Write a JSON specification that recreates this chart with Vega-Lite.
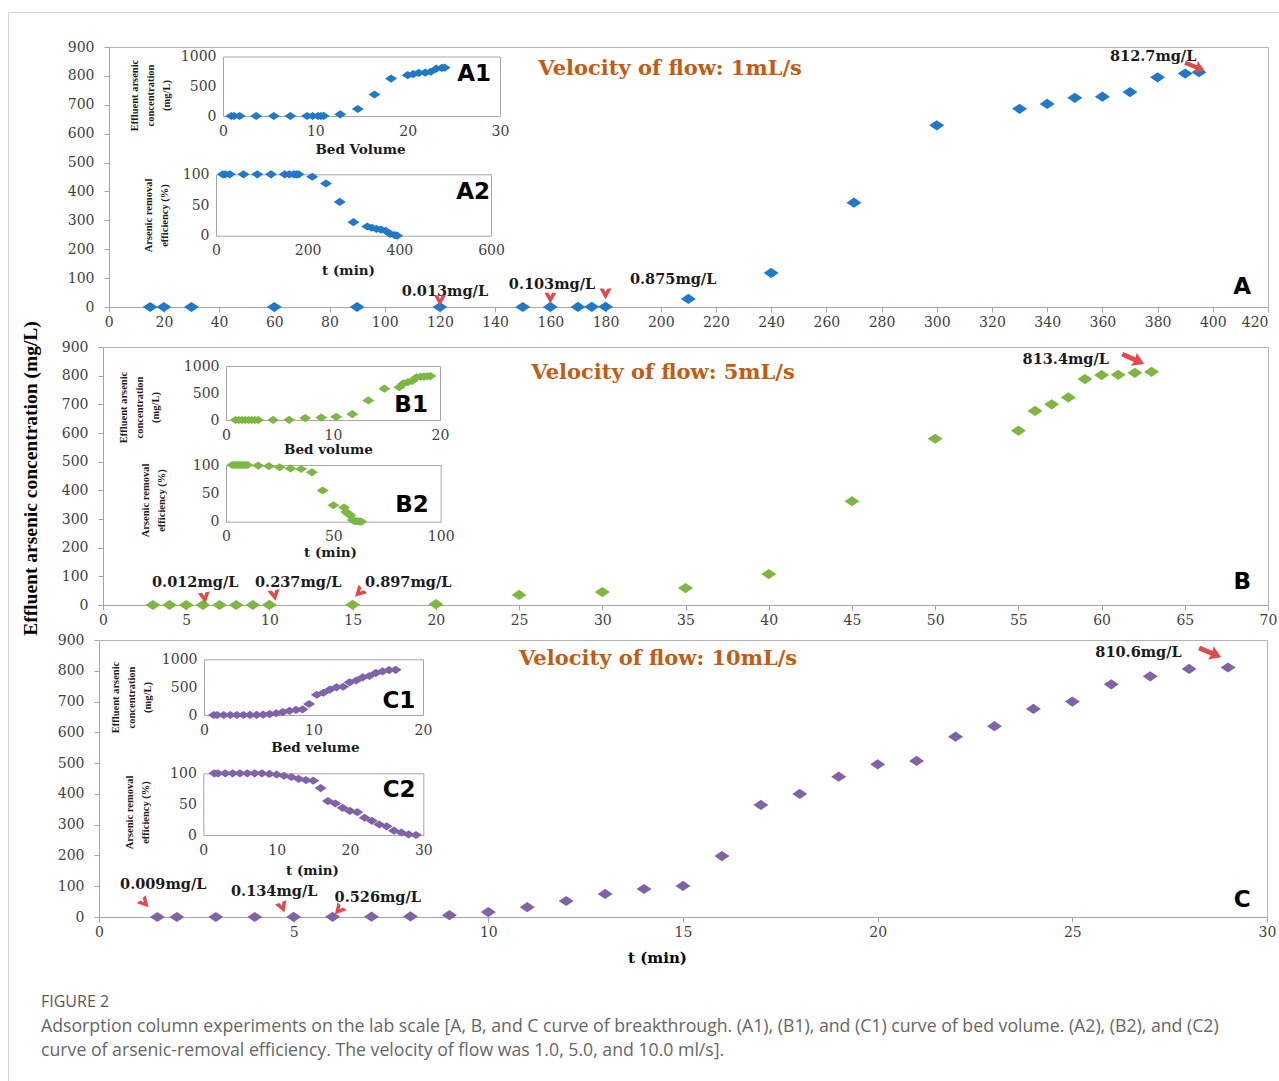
{
  "$schema": "https://vega.github.io/schema/vega-lite/v6.json",
  "width": 1271,
  "height": 1069,
  "autosize": {"type": "none"},
  "padding": {"left": 8, "top": 12, "right": 0, "bottom": 0},
  "background": "white",
  "config": {"view": {"stroke": "#d6d6d6"}, "axis": {"grid": false}},
  "title": {
    "text": "FIGURE 2",
    "subtitle": ["Adsorption column experiments on the lab scale [A, B, and C curve of breakthrough. (A1), (B1), and (C1) curve of bed volume. (A2), (B2), and (C2)", "curve of arsenic-removal efficiency. The velocity of flow was 1.0, 5.0, and 10.0 ml/s]."],
    "orient": "bottom", "anchor": "start", "frame": "group", "offset": -87, "dx": 33,
    "font": "Open Sans", "fontSize": 16, "fontWeight": "normal", "color": "#595959",
    "subtitleFont": "Open Sans", "subtitleFontSize": 17.7, "subtitleColor": "#666666", "subtitleLineHeight": 24, "subtitlePadding": 8
  },
  "datasets": {
    "A": [
      {"t":15,"c":0,"bv":0.9,"eff":100},{"t":20,"c":0,"bv":1.2,"eff":100},{"t":30,"c":0,"bv":1.8,"eff":100},
      {"t":60,"c":0,"bv":3.6,"eff":100},{"t":90,"c":0,"bv":5.5,"eff":100},{"t":120,"c":0.013,"bv":7.3,"eff":100},
      {"t":150,"c":0.05,"bv":9.1,"eff":100},{"t":160,"c":0.103,"bv":9.7,"eff":100},{"t":170,"c":0.3,"bv":10.3,"eff":100},
      {"t":175,"c":0.5,"bv":10.6,"eff":100},{"t":180,"c":0.875,"bv":10.9,"eff":100},{"t":210,"c":28,"bv":12.7,"eff":96},
      {"t":240,"c":118,"bv":14.6,"eff":85},{"t":270,"c":361,"bv":16.4,"eff":55},{"t":300,"c":629,"bv":18.2,"eff":22},
      {"t":330,"c":686,"bv":20.0,"eff":15},{"t":340,"c":703,"bv":20.6,"eff":13},{"t":350,"c":724,"bv":21.2,"eff":11},
      {"t":360,"c":728,"bv":21.9,"eff":10},{"t":370,"c":744,"bv":22.5,"eff":8},{"t":380,"c":795,"bv":23.1,"eff":3},
      {"t":390,"c":808,"bv":23.7,"eff":1},{"t":395,"c":812.7,"bv":24.0,"eff":0}
    ],
    "B": [
      {"t":3,"c":0,"bv":0.9,"eff":100},{"t":4,"c":0,"bv":1.2,"eff":100},{"t":5,"c":0,"bv":1.5,"eff":100},
      {"t":6,"c":0.012,"bv":1.8,"eff":100},{"t":7,"c":0,"bv":2.1,"eff":100},{"t":8,"c":0,"bv":2.4,"eff":100},
      {"t":9,"c":0,"bv":2.7,"eff":100},{"t":10,"c":0.237,"bv":3.0,"eff":100},{"t":15,"c":0.897,"bv":4.4,"eff":99},
      {"t":20,"c":3,"bv":5.9,"eff":98},{"t":25,"c":35,"bv":7.4,"eff":96},{"t":30,"c":45,"bv":8.9,"eff":94},
      {"t":35,"c":59,"bv":10.3,"eff":93},{"t":40,"c":108,"bv":11.8,"eff":87},{"t":45,"c":362,"bv":13.3,"eff":55},
      {"t":50,"c":580,"bv":14.8,"eff":29},{"t":55,"c":608,"bv":16.2,"eff":25},{"t":56,"c":677,"bv":16.6,"eff":17},
      {"t":57,"c":700,"bv":17.0,"eff":14},{"t":58,"c":724,"bv":17.4,"eff":11},{"t":59,"c":788,"bv":17.8,"eff":3},
      {"t":60,"c":802,"bv":18.2,"eff":1},{"t":61,"c":803,"bv":18.5,"eff":1},{"t":62,"c":810,"bv":18.8,"eff":0.5},
      {"t":63,"c":813.4,"bv":19.1,"eff":0}
    ],
    "C": [
      {"t":1.5,"c":0.009,"bv":0.9,"eff":100},{"t":2,"c":0,"bv":1.2,"eff":100},{"t":3,"c":0,"bv":1.8,"eff":100},
      {"t":4,"c":0,"bv":2.4,"eff":100},{"t":5,"c":0.134,"bv":3.0,"eff":100},{"t":6,"c":0.526,"bv":3.6,"eff":100},
      {"t":7,"c":1,"bv":4.2,"eff":100},{"t":8,"c":2,"bv":4.8,"eff":100},{"t":9,"c":6,"bv":5.4,"eff":99},
      {"t":10,"c":16,"bv":6.0,"eff":98},{"t":11,"c":32,"bv":6.6,"eff":96},{"t":12,"c":52,"bv":7.2,"eff":94},
      {"t":13,"c":75,"bv":7.8,"eff":91},{"t":14,"c":91,"bv":8.4,"eff":89},{"t":15,"c":101,"bv":9.0,"eff":88},
      {"t":16,"c":198,"bv":9.6,"eff":76},{"t":17,"c":364,"bv":10.3,"eff":55},{"t":18,"c":400,"bv":10.9,"eff":51},
      {"t":19,"c":456,"bv":11.5,"eff":44},{"t":20,"c":496,"bv":12.1,"eff":39},{"t":21,"c":507,"bv":12.7,"eff":37},
      {"t":22,"c":586,"bv":13.3,"eff":28},{"t":23,"c":620,"bv":13.9,"eff":23},{"t":24,"c":676,"bv":14.5,"eff":17},
      {"t":25,"c":700,"bv":15.1,"eff":14},{"t":26,"c":756,"bv":15.7,"eff":7},{"t":27,"c":782,"bv":16.3,"eff":4},
      {"t":28,"c":806,"bv":16.9,"eff":1},{"t":29,"c":810.6,"bv":17.5,"eff":0}
    ],
    "notesA": [
      {"kind":"value","t":121.8,"c":52,"label":"0.013mg/L"},
      {"kind":"value","t":160.6,"c":76,"label":"0.103mg/L"},
      {"kind":"value","t":204.5,"c":93,"label":"0.875mg/L"},
      {"kind":"value","t":378.4,"c":865,"label":"812.7mg/L"},
      {"kind":"velocity","t":203.4,"c":824,"label":"Velocity of flow: 1mL/s"},
      {"kind":"panel","t":410.6,"c":69,"label":"A"},
      {"kind":"down","t":120,"c":24,"label":""},
      {"kind":"down","t":160,"c":33,"label":""},
      {"kind":"down","t":180,"c":47,"label":""},
      {"kind":"long","t":393.5,"c":832,"label":""}
    ],
    "notesB": [
      {"kind":"value","t":5.54,"c":78,"label":"0.012mg/L"},
      {"kind":"value","t":11.73,"c":78,"label":"0.237mg/L"},
      {"kind":"value","t":18.34,"c":76,"label":"0.897mg/L"},
      {"kind":"value","t":57.85,"c":855,"label":"813.4mg/L"},
      {"kind":"velocity","t":33.65,"c":809,"label":"Velocity of flow: 5mL/s"},
      {"kind":"panel","t":68.45,"c":80,"label":"B"},
      {"kind":"down","t":6.1,"c":27,"label":""},
      {"kind":"down","t":10.3,"c":35,"label":""},
      {"kind":"dl","t":15.4,"c":44,"label":""},
      {"kind":"long","t":61.9,"c":858,"label":""}
    ],
    "notesC": [
      {"kind":"value","t":1.65,"c":104,"label":"0.009mg/L"},
      {"kind":"value","t":4.5,"c":82,"label":"0.134mg/L"},
      {"kind":"value","t":7.16,"c":63,"label":"0.526mg/L"},
      {"kind":"value","t":26.7,"c":857,"label":"810.6mg/L"},
      {"kind":"velocity","t":14.36,"c":838,"label":"Velocity of flow: 10mL/s"},
      {"kind":"panel","t":29.36,"c":55,"label":"C"},
      {"kind":"dr","t":1.17,"c":46,"label":""},
      {"kind":"down","t":4.71,"c":33,"label":""},
      {"kind":"dl","t":6.16,"c":23,"label":""},
      {"kind":"long","t":28.54,"c":859,"label":""}
    ]
  },
  "resolve": {"scale": {"x": "independent", "y": "independent"}, "axis": {"x": "independent", "y": "independent"}},
  "layer": [
    {
      "data": {"name": "A"},
      "resolve": {"axis": {"x": "independent", "y": "independent"}},
      "encoding": {
        "x": {"field": "t", "type": "quantitative", "scale": {"domain": [0, 420], "range": [100.7, 1260], "nice": false, "zero": false}, "axis": null},
        "y": {"field": "c", "type": "quantitative", "scale": {"domain": [0, 900], "range": [295, 35], "nice": false, "zero": false}, "axis": null}
      },
      "layer": [
        {"mark": {"type": "point", "shape": "M-1,0L0,-0.68L1,0L0,0.68Z", "filled": true, "size": 225, "color": "#1f78c8", "opacity": 1},
          "encoding": {
            "x": {"field": "t", "type": "quantitative", "scale": {"domain": [0, 420], "range": [100.7, 1260], "nice": false, "zero": false},
              "axis": {"orient": "bottom", "offset": -774, "values": [0,20,40,60,80,100,120,140,160,180,200,220,240,260,280,300,320,340,360,380,400,420], "format": "d", "title": null, "domainColor": "#a6a6a6", "tickColor": "#a6a6a6", "tickSize": 5, "labelPadding": 3, "labelFont": "DejaVu Serif", "labelFontSize": 14, "labelColor": "#404040", "labelOverlap": false, "labelFlush": false,
                "labelAlign": {"condition": {"test": "datum.value == 420", "value": "right"}, "value": "center"}}},
            "y": {"field": "c", "type": "quantitative", "scale": {"domain": [0, 900], "range": [295, 35], "nice": false, "zero": false},
              "axis": {"orient": "left", "offset": -101, "values": [0,100,200,300,400,500,600,700,800,900], "format": "d", "title": null, "domainColor": "#a6a6a6", "tickColor": "#a6a6a6", "tickSize": 5, "labelPadding": 10, "labelFont": "DejaVu Serif", "labelFontSize": 14, "labelColor": "#404040", "labelOverlap": false, "labelFlush": false}}
          }},
        {"data": {"name": "notesA"}, "transform": [{"filter": "datum.kind == 'value'"}], "mark": {"type": "text", "font": "DejaVu Serif", "fontWeight": "bold", "fontSize": 14.5, "color": "#1a1a1a", "align": "center", "baseline": "middle"},
          "encoding": {
            "x": {"field": "t", "type": "quantitative", "scale": {"domain": [0, 420], "range": [100.7, 1260], "nice": false, "zero": false}, "axis": {"orient": "top", "offset": -35, "labels": false, "ticks": false, "domainColor": "#b3b3b3", "title": null}},
            "y": {"field": "c", "type": "quantitative", "scale": {"domain": [0, 900], "range": [295, 35], "nice": false, "zero": false}, "axis": {"orient": "right", "offset": -11, "labels": false, "ticks": false, "domainColor": "#b3b3b3", "title": null}},
            "text": {"field": "label"}}},
        {"data": {"name": "notesA"}, "transform": [{"filter": "datum.kind == 'velocity'"}], "mark": {"type": "text", "font": "DejaVu Serif", "fontWeight": "bold", "fontSize": 21, "color": "#c55a11", "align": "center", "baseline": "middle"}, "encoding": {"text": {"field": "label"}}},
        {"data": {"name": "notesA"}, "transform": [{"filter": "datum.kind == 'panel'"}], "mark": {"type": "text", "font": "DejaVu Sans", "fontWeight": "bold", "fontSize": 23, "color": "#000000", "align": "center", "baseline": "middle"}, "encoding": {"text": {"field": "label"}}},
        {"data": {"name": "notesA"}, "transform": [{"filter": "datum.kind == 'down'"}], "mark": {"type": "point", "shape": "M-1,-0.8L-0.3,-0.8L0,-0.15L0.3,-0.8L1,-0.8L0,1Z", "filled": true, "size": 144, "color": "#e5474b", "opacity": 1, "angle": 0}},
        {"data": {"name": "notesA"}, "transform": [{"filter": "datum.kind == 'long'"}], "mark": {"type": "point", "shape": "M-0.2,-1L0.2,-1L0.2,0.15L0.6,0.05L0,1L-0.6,0.05L-0.2,0.15Z", "filled": true, "size": 441, "color": "#e5474b", "opacity": 1, "angle": -68}}
      ]
    },
    {
      "data": {"name": "A"},
      "resolve": {"axis": {"x": "independent", "y": "independent"}},
      "encoding": {
        "x": {"field": "bv", "type": "quantitative", "scale": {"domain": [0, 30], "range": [215, 492], "nice": false, "zero": false}, "axis": null},
        "y": {"field": "c", "type": "quantitative", "scale": {"domain": [0, 1000], "range": [104, 44.5], "nice": false, "zero": false}, "axis": null}
      },
      "layer": [
        {"mark": {"type": "point", "shape": "M-1,0L0,-0.68L1,0L0,0.68Z", "filled": true, "size": 144, "color": "#1f78c8", "opacity": 1},
          "encoding": {
            "x": {"field": "bv", "type": "quantitative", "scale": {"domain": [0, 30], "range": [215, 492], "nice": false, "zero": false},
              "axis": {"orient": "bottom", "offset": -965, "values": [0,10,20,30], "format": "d", "ticks": false, "domainColor": "#a6a6a6", "labelPadding": 8, "labelFont": "DejaVu Serif", "labelFontSize": 14, "labelColor": "#404040", "labelFlush": false, "labelOverlap": false,
                "title": "Bed Volume", "titleX": 352, "titleY": 33, "titleBaseline": "middle", "titleAlign": "center", "titleFont": "DejaVu Serif", "titleFontSize": 13.5, "titleFontWeight": "bold", "titleColor": "#1a1a1a"}},
            "y": {"field": "c", "type": "quantitative", "scale": {"domain": [0, 1000], "range": [104, 44.5], "nice": false, "zero": false},
              "axis": {"orient": "left", "offset": -215, "values": [0,500,1000], "format": "d", "ticks": false, "domainColor": "#a6a6a6", "labelPadding": 7, "labelFont": "DejaVu Serif", "labelFontSize": 14, "labelColor": "#404040", "labelFlush": false, "labelOverlap": false,
                "title": ["Effluent arsenic", "concentration", "(mg/L)"], "titleX": -89, "titleY": 83, "titleAngle": 270, "titleBaseline": "middle", "titleAlign": "center", "titleFont": "Liberation Serif", "titleFontSize": 10.5, "titleFontWeight": "bold", "titleColor": "#1a1a1a", "titleLineHeight": 16}}
          }},
        {"data": {"values": [{"bv": 27.2, "c": 706, "label": "A1"}]}, "mark": {"type": "text", "font": "DejaVu Sans", "fontWeight": "bold", "fontSize": 23, "color": "#000000", "align": "center", "baseline": "middle"},
          "encoding": {
            "x": {"field": "bv", "type": "quantitative", "scale": {"domain": [0, 30], "range": [215, 492], "nice": false, "zero": false}, "axis": {"orient": "top", "offset": -44.5, "labels": false, "ticks": false, "domainColor": "#a6a6a6", "title": null}},
            "y": {"field": "c", "type": "quantitative", "scale": {"domain": [0, 1000], "range": [104, 44.5], "nice": false, "zero": false}, "axis": {"orient": "right", "offset": -779, "labels": false, "ticks": false, "domainColor": "#a6a6a6", "title": null}},
            "text": {"field": "label"}}}
      ]
    },
    {
      "data": {"name": "A"},
      "resolve": {"axis": {"x": "independent", "y": "independent"}},
      "encoding": {
        "x": {"field": "t", "type": "quantitative", "scale": {"domain": [0, 600], "range": [208, 483], "nice": false, "zero": false}, "axis": null},
        "y": {"field": "eff", "type": "quantitative", "scale": {"domain": [0, 100], "range": [223.7, 162.3], "nice": false, "zero": false}, "axis": null}
      },
      "layer": [
        {"mark": {"type": "point", "shape": "M-1,0L0,-0.68L1,0L0,0.68Z", "filled": true, "size": 144, "color": "#1f78c8", "opacity": 1},
          "encoding": {
            "x": {"field": "t", "type": "quantitative", "scale": {"domain": [0, 600], "range": [208, 483], "nice": false, "zero": false},
              "axis": {"orient": "bottom", "offset": -845.3, "values": [0,200,400,600], "format": "d", "ticks": false, "domainColor": "#a6a6a6", "labelPadding": 8, "labelFont": "DejaVu Serif", "labelFontSize": 14, "labelColor": "#404040", "labelFlush": false, "labelOverlap": false,
                "title": "t (min)", "titleX": 340, "titleY": 35, "titleBaseline": "middle", "titleAlign": "center", "titleFont": "DejaVu Serif", "titleFontSize": 13.5, "titleFontWeight": "bold", "titleColor": "#1a1a1a"}},
            "y": {"field": "eff", "type": "quantitative", "scale": {"domain": [0, 100], "range": [223.7, 162.3], "nice": false, "zero": false},
              "axis": {"orient": "left", "offset": -208, "values": [0,50,100], "format": "d", "ticks": false, "domainColor": "#a6a6a6", "labelPadding": 7, "labelFont": "DejaVu Serif", "labelFontSize": 14, "labelColor": "#404040", "labelFlush": false, "labelOverlap": false,
                "title": ["Arsenic removal", "efficiency (%)"], "titleX": -68, "titleY": 203, "titleAngle": 270, "titleBaseline": "middle", "titleAlign": "center", "titleFont": "Liberation Serif", "titleFontSize": 10.5, "titleFontWeight": "bold", "titleColor": "#1a1a1a", "titleLineHeight": 16}}
          }},
        {"data": {"values": [{"t": 561, "eff": 71, "label": "A2"}]}, "mark": {"type": "text", "font": "DejaVu Sans", "fontWeight": "bold", "fontSize": 23, "color": "#000000", "align": "center", "baseline": "middle"},
          "encoding": {
            "x": {"field": "t", "type": "quantitative", "scale": {"domain": [0, 600], "range": [208, 483], "nice": false, "zero": false}, "axis": {"orient": "top", "offset": -162.3, "labels": false, "ticks": false, "domainColor": "#a6a6a6", "title": null}},
            "y": {"field": "eff", "type": "quantitative", "scale": {"domain": [0, 100], "range": [223.7, 162.3], "nice": false, "zero": false}, "axis": {"orient": "right", "offset": -788, "labels": false, "ticks": false, "domainColor": "#a6a6a6", "title": null}},
            "text": {"field": "label"}}}
      ]
    },
    {
      "data": {"name": "B"},
      "resolve": {"axis": {"x": "independent", "y": "independent"}},
      "encoding": {
        "x": {"field": "t", "type": "quantitative", "scale": {"domain": [0, 70], "range": [95, 1260], "nice": false, "zero": false}, "axis": null},
        "y": {"field": "c", "type": "quantitative", "scale": {"domain": [0, 900], "range": [593, 335], "nice": false, "zero": false}, "axis": null}
      },
      "layer": [
        {"mark": {"type": "point", "shape": "M-1,0L0,-0.68L1,0L0,0.68Z", "filled": true, "size": 225, "color": "#7cb83f", "opacity": 1},
          "encoding": {
            "x": {"field": "t", "type": "quantitative", "scale": {"domain": [0, 70], "range": [95, 1260], "nice": false, "zero": false},
              "axis": {"orient": "bottom", "offset": -476, "values": [0,5,10,15,20,25,30,35,40,45,50,55,60,65,70], "format": "d", "title": null, "domainColor": "#a6a6a6", "tickColor": "#a6a6a6", "tickSize": 5, "labelPadding": 3, "labelFont": "DejaVu Serif", "labelFontSize": 14, "labelColor": "#404040", "labelOverlap": false, "labelFlush": false}},
            "y": {"field": "c", "type": "quantitative", "scale": {"domain": [0, 900], "range": [593, 335], "nice": false, "zero": false},
              "axis": {"orient": "left", "offset": -95, "values": [0,100,200,300,400,500,600,700,800,900], "format": "d", "domainColor": "#a6a6a6", "tickColor": "#a6a6a6", "tickSize": 5, "labelPadding": 10, "labelFont": "DejaVu Serif", "labelFontSize": 14, "labelColor": "#404040", "labelOverlap": false, "labelFlush": false,
                "title": "Effluent arsenic concentration (mg/L)", "titleX": -73, "titleY": 466, "titleAngle": 270, "titleBaseline": "middle", "titleAlign": "center", "titleFont": "Liberation Serif", "titleFontSize": 19.5, "titleFontWeight": "bold", "titleColor": "#000000"}}
          }},
        {"data": {"name": "notesB"}, "transform": [{"filter": "datum.kind == 'value'"}], "mark": {"type": "text", "font": "DejaVu Serif", "fontWeight": "bold", "fontSize": 14.5, "color": "#1a1a1a", "align": "center", "baseline": "middle"},
          "encoding": {
            "x": {"field": "t", "type": "quantitative", "scale": {"domain": [0, 70], "range": [95, 1260], "nice": false, "zero": false}, "axis": {"orient": "top", "offset": -335, "labels": false, "ticks": false, "domainColor": "#b3b3b3", "title": null}},
            "y": {"field": "c", "type": "quantitative", "scale": {"domain": [0, 900], "range": [593, 335], "nice": false, "zero": false}, "axis": {"orient": "right", "offset": -11, "labels": false, "ticks": false, "domainColor": "#b3b3b3", "title": null}},
            "text": {"field": "label"}}},
        {"data": {"name": "notesB"}, "transform": [{"filter": "datum.kind == 'velocity'"}], "mark": {"type": "text", "font": "DejaVu Serif", "fontWeight": "bold", "fontSize": 21, "color": "#c55a11", "align": "center", "baseline": "middle"}, "encoding": {"text": {"field": "label"}}},
        {"data": {"name": "notesB"}, "transform": [{"filter": "datum.kind == 'panel'"}], "mark": {"type": "text", "font": "DejaVu Sans", "fontWeight": "bold", "fontSize": 23, "color": "#000000", "align": "center", "baseline": "middle"}, "encoding": {"text": {"field": "label"}}},
        {"data": {"name": "notesB"}, "transform": [{"filter": "datum.kind == 'down'"}], "mark": {"type": "point", "shape": "M-1,-0.8L-0.3,-0.8L0,-0.15L0.3,-0.8L1,-0.8L0,1Z", "filled": true, "size": 144, "color": "#e5474b", "opacity": 1, "angle": -10}},
        {"data": {"name": "notesB"}, "transform": [{"filter": "datum.kind == 'dl'"}], "mark": {"type": "point", "shape": "M-1,-0.8L-0.3,-0.8L0,-0.15L0.3,-0.8L1,-0.8L0,1Z", "filled": true, "size": 144, "color": "#e5474b", "opacity": 1, "angle": 45}},
        {"data": {"name": "notesB"}, "transform": [{"filter": "datum.kind == 'long'"}], "mark": {"type": "point", "shape": "M-0.2,-1L0.2,-1L0.2,0.15L0.6,0.05L0,1L-0.6,0.05L-0.2,0.15Z", "filled": true, "size": 576, "color": "#e5474b", "opacity": 1, "angle": -66}}
      ]
    },
    {
      "data": {"name": "B"},
      "resolve": {"axis": {"x": "independent", "y": "independent"}},
      "encoding": {
        "x": {"field": "bv", "type": "quantitative", "scale": {"domain": [0, 20], "range": [218, 432], "nice": false, "zero": false}, "axis": null},
        "y": {"field": "c", "type": "quantitative", "scale": {"domain": [0, 1000], "range": [408, 354], "nice": false, "zero": false}, "axis": null}
      },
      "layer": [
        {"mark": {"type": "point", "shape": "M-1,0L0,-0.68L1,0L0,0.68Z", "filled": true, "size": 144, "color": "#7cb83f", "opacity": 1},
          "encoding": {
            "x": {"field": "bv", "type": "quantitative", "scale": {"domain": [0, 20], "range": [218, 432], "nice": false, "zero": false},
              "axis": {"orient": "bottom", "offset": -661, "values": [0,10,20], "format": "d", "ticks": false, "domainColor": "#a6a6a6", "labelPadding": 8, "labelFont": "DejaVu Serif", "labelFontSize": 14, "labelColor": "#404040", "labelFlush": false, "labelOverlap": false,
                "title": "Bed volume", "titleX": 320, "titleY": 29, "titleBaseline": "middle", "titleAlign": "center", "titleFont": "DejaVu Serif", "titleFontSize": 13.5, "titleFontWeight": "bold", "titleColor": "#1a1a1a"}},
            "y": {"field": "c", "type": "quantitative", "scale": {"domain": [0, 1000], "range": [408, 354], "nice": false, "zero": false},
              "axis": {"orient": "left", "offset": -218, "values": [0,500,1000], "format": "d", "ticks": false, "domainColor": "#a6a6a6", "labelPadding": 7, "labelFont": "DejaVu Serif", "labelFontSize": 14, "labelColor": "#404040", "labelFlush": false, "labelOverlap": false,
                "title": ["Effluent arsenic", "concentration", "(mg/L)"], "titleX": -103, "titleY": 395, "titleAngle": 270, "titleBaseline": "middle", "titleAlign": "center", "titleFont": "Liberation Serif", "titleFontSize": 10.5, "titleFontWeight": "bold", "titleColor": "#1a1a1a", "titleLineHeight": 16}}
          }},
        {"data": {"values": [{"bv": 17.3, "c": 278, "label": "B1"}]}, "mark": {"type": "text", "font": "DejaVu Sans", "fontWeight": "bold", "fontSize": 23, "color": "#000000", "align": "center", "baseline": "middle"},
          "encoding": {
            "x": {"field": "bv", "type": "quantitative", "scale": {"domain": [0, 20], "range": [218, 432], "nice": false, "zero": false}, "axis": {"orient": "top", "offset": -354, "labels": false, "ticks": false, "domainColor": "#a6a6a6", "title": null}},
            "y": {"field": "c", "type": "quantitative", "scale": {"domain": [0, 1000], "range": [408, 354], "nice": false, "zero": false}, "axis": {"orient": "right", "offset": -839, "labels": false, "ticks": false, "domainColor": "#a6a6a6", "title": null}},
            "text": {"field": "label"}}}
      ]
    },
    {
      "data": {"name": "B"},
      "resolve": {"axis": {"x": "independent", "y": "independent"}},
      "encoding": {
        "x": {"field": "t", "type": "quantitative", "scale": {"domain": [0, 100], "range": [218, 432.7], "nice": false, "zero": false}, "axis": null},
        "y": {"field": "eff", "type": "quantitative", "scale": {"domain": [0, 100], "range": [509.7, 453], "nice": false, "zero": false}, "axis": null}
      },
      "layer": [
        {"mark": {"type": "point", "shape": "M-1,0L0,-0.68L1,0L0,0.68Z", "filled": true, "size": 144, "color": "#7cb83f", "opacity": 1},
          "encoding": {
            "x": {"field": "t", "type": "quantitative", "scale": {"domain": [0, 100], "range": [218, 432.7], "nice": false, "zero": false},
              "axis": {"orient": "bottom", "offset": -559.3, "values": [0,50,100], "format": "d", "ticks": false, "domainColor": "#a6a6a6", "labelPadding": 8, "labelFont": "DejaVu Serif", "labelFontSize": 14, "labelColor": "#404040", "labelFlush": false, "labelOverlap": false,
                "title": "t (min)", "titleX": 322, "titleY": 31, "titleBaseline": "middle", "titleAlign": "center", "titleFont": "DejaVu Serif", "titleFontSize": 13.5, "titleFontWeight": "bold", "titleColor": "#1a1a1a"}},
            "y": {"field": "eff", "type": "quantitative", "scale": {"domain": [0, 100], "range": [509.7, 453], "nice": false, "zero": false},
              "axis": {"orient": "left", "offset": -218, "values": [0,50,100], "format": "d", "ticks": false, "domainColor": "#a6a6a6", "labelPadding": 7, "labelFont": "DejaVu Serif", "labelFontSize": 14, "labelColor": "#404040", "labelFlush": false, "labelOverlap": false,
                "title": ["Arsenic removal", "efficiency (%)"], "titleX": -81, "titleY": 488, "titleAngle": 270, "titleBaseline": "middle", "titleAlign": "center", "titleFont": "Liberation Serif", "titleFontSize": 10.5, "titleFontWeight": "bold", "titleColor": "#1a1a1a", "titleLineHeight": 16}}
          }},
        {"data": {"values": [{"t": 86.6, "eff": 29.5, "label": "B2"}]}, "mark": {"type": "text", "font": "DejaVu Sans", "fontWeight": "bold", "fontSize": 23, "color": "#000000", "align": "center", "baseline": "middle"},
          "encoding": {
            "x": {"field": "t", "type": "quantitative", "scale": {"domain": [0, 100], "range": [218, 432.7], "nice": false, "zero": false}, "axis": {"orient": "top", "offset": -453, "labels": false, "ticks": false, "domainColor": "#a6a6a6", "title": null}},
            "y": {"field": "eff", "type": "quantitative", "scale": {"domain": [0, 100], "range": [509.7, 453], "nice": false, "zero": false}, "axis": {"orient": "right", "offset": -838.3, "labels": false, "ticks": false, "domainColor": "#a6a6a6", "title": null}},
            "text": {"field": "label"}}}
      ]
    },
    {
      "data": {"name": "C"},
      "resolve": {"axis": {"x": "independent", "y": "independent"}},
      "encoding": {
        "x": {"field": "t", "type": "quantitative", "scale": {"domain": [0, 30], "range": [91, 1259], "nice": false, "zero": false}, "axis": null},
        "y": {"field": "c", "type": "quantitative", "scale": {"domain": [0, 900], "range": [905, 628], "nice": false, "zero": false}, "axis": null}
      },
      "layer": [
        {"mark": {"type": "point", "shape": "M-1,0L0,-0.68L1,0L0,0.68Z", "filled": true, "size": 225, "color": "#8062a8", "opacity": 1},
          "encoding": {
            "x": {"field": "t", "type": "quantitative", "scale": {"domain": [0, 30], "range": [91, 1259], "nice": false, "zero": false},
              "axis": {"orient": "bottom", "offset": -164, "values": [0,5,10,15,20,25,30], "format": "d", "domainColor": "#a6a6a6", "tickColor": "#a6a6a6", "tickSize": 5, "labelPadding": 3, "labelFont": "DejaVu Serif", "labelFontSize": 14, "labelColor": "#404040", "labelOverlap": false, "labelFlush": false,
                "title": "t (min)", "titleX": 649, "titleY": 40, "titleBaseline": "middle", "titleAlign": "center", "titleFont": "DejaVu Serif", "titleFontSize": 15, "titleFontWeight": "bold", "titleColor": "#000000"}},
            "y": {"field": "c", "type": "quantitative", "scale": {"domain": [0, 900], "range": [905, 628], "nice": false, "zero": false},
              "axis": {"orient": "left", "offset": -91, "values": [0,100,200,300,400,500,600,700,800,900], "format": "d", "title": null, "domainColor": "#a6a6a6", "tickColor": "#a6a6a6", "tickSize": 5, "labelPadding": 10, "labelFont": "DejaVu Serif", "labelFontSize": 14, "labelColor": "#404040", "labelOverlap": false, "labelFlush": false}}
          }},
        {"data": {"name": "notesC"}, "transform": [{"filter": "datum.kind == 'value'"}], "mark": {"type": "text", "font": "DejaVu Serif", "fontWeight": "bold", "fontSize": 14.5, "color": "#1a1a1a", "align": "center", "baseline": "middle"},
          "encoding": {
            "x": {"field": "t", "type": "quantitative", "scale": {"domain": [0, 30], "range": [91, 1259], "nice": false, "zero": false}, "axis": {"orient": "top", "offset": -628, "labels": false, "ticks": false, "domainColor": "#b3b3b3", "title": null}},
            "y": {"field": "c", "type": "quantitative", "scale": {"domain": [0, 900], "range": [905, 628], "nice": false, "zero": false}, "axis": {"orient": "right", "offset": -12, "labels": false, "ticks": false, "domainColor": "#b3b3b3", "title": null}},
            "text": {"field": "label"}}},
        {"data": {"name": "notesC"}, "transform": [{"filter": "datum.kind == 'velocity'"}], "mark": {"type": "text", "font": "DejaVu Serif", "fontWeight": "bold", "fontSize": 21, "color": "#c55a11", "align": "center", "baseline": "middle"}, "encoding": {"text": {"field": "label"}}},
        {"data": {"name": "notesC"}, "transform": [{"filter": "datum.kind == 'panel'"}], "mark": {"type": "text", "font": "DejaVu Sans", "fontWeight": "bold", "fontSize": 23, "color": "#000000", "align": "center", "baseline": "middle"}, "encoding": {"text": {"field": "label"}}},
        {"data": {"name": "notesC"}, "transform": [{"filter": "datum.kind == 'down'"}], "mark": {"type": "point", "shape": "M-1,-0.8L-0.3,-0.8L0,-0.15L0.3,-0.8L1,-0.8L0,1Z", "filled": true, "size": 144, "color": "#e5474b", "opacity": 1, "angle": -20}},
        {"data": {"name": "notesC"}, "transform": [{"filter": "datum.kind == 'dr'"}], "mark": {"type": "point", "shape": "M-1,-0.8L-0.3,-0.8L0,-0.15L0.3,-0.8L1,-0.8L0,1Z", "filled": true, "size": 144, "color": "#e5474b", "opacity": 1, "angle": -42}},
        {"data": {"name": "notesC"}, "transform": [{"filter": "datum.kind == 'dl'"}], "mark": {"type": "point", "shape": "M-1,-0.8L-0.3,-0.8L0,-0.15L0.3,-0.8L1,-0.8L0,1Z", "filled": true, "size": 144, "color": "#e5474b", "opacity": 1, "angle": 42}},
        {"data": {"name": "notesC"}, "transform": [{"filter": "datum.kind == 'long'"}], "mark": {"type": "point", "shape": "M-0.2,-1L0.2,-1L0.2,0.15L0.6,0.05L0,1L-0.6,0.05L-0.2,0.15Z", "filled": true, "size": 576, "color": "#e5474b", "opacity": 1, "angle": -67}}
      ]
    },
    {
      "data": {"name": "C"},
      "resolve": {"axis": {"x": "independent", "y": "independent"}},
      "encoding": {
        "x": {"field": "bv", "type": "quantitative", "scale": {"domain": [0, 20], "range": [196, 415], "nice": false, "zero": false}, "axis": null},
        "y": {"field": "c", "type": "quantitative", "scale": {"domain": [0, 1000], "range": [703, 647.3], "nice": false, "zero": false}, "axis": null}
      },
      "layer": [
        {"mark": {"type": "point", "shape": "M-1,0L0,-0.68L1,0L0,0.68Z", "filled": true, "size": 144, "color": "#8062a8", "opacity": 1},
          "encoding": {
            "x": {"field": "bv", "type": "quantitative", "scale": {"domain": [0, 20], "range": [196, 415], "nice": false, "zero": false},
              "axis": {"orient": "bottom", "offset": -366, "values": [0,10,20], "format": "d", "ticks": false, "domainColor": "#a6a6a6", "labelPadding": 8, "labelFont": "DejaVu Serif", "labelFontSize": 14, "labelColor": "#404040", "labelFlush": false, "labelOverlap": false,
                "title": "Bed velume", "titleX": 307, "titleY": 32, "titleBaseline": "middle", "titleAlign": "center", "titleFont": "DejaVu Serif", "titleFontSize": 13.5, "titleFontWeight": "bold", "titleColor": "#1a1a1a"}},
            "y": {"field": "c", "type": "quantitative", "scale": {"domain": [0, 1000], "range": [703, 647.3], "nice": false, "zero": false},
              "axis": {"orient": "left", "offset": -196, "values": [0,500,1000], "format": "d", "ticks": false, "domainColor": "#a6a6a6", "labelPadding": 7, "labelFont": "DejaVu Serif", "labelFontSize": 14, "labelColor": "#404040", "labelFlush": false, "labelOverlap": false,
                "title": ["Effluent arsenic", "concentration", "(mg/L)"], "titleX": -89, "titleY": 685, "titleAngle": 270, "titleBaseline": "middle", "titleAlign": "center", "titleFont": "Liberation Serif", "titleFontSize": 10.5, "titleFontWeight": "bold", "titleColor": "#1a1a1a", "titleLineHeight": 16}}
          }},
        {"data": {"values": [{"bv": 17.8, "c": 251, "label": "C1"}]}, "mark": {"type": "text", "font": "DejaVu Sans", "fontWeight": "bold", "fontSize": 23, "color": "#000000", "align": "center", "baseline": "middle"},
          "encoding": {
            "x": {"field": "bv", "type": "quantitative", "scale": {"domain": [0, 20], "range": [196, 415], "nice": false, "zero": false}, "axis": {"orient": "top", "offset": -647.3, "labels": false, "ticks": false, "domainColor": "#a6a6a6", "title": null}},
            "y": {"field": "c", "type": "quantitative", "scale": {"domain": [0, 1000], "range": [703, 647.3], "nice": false, "zero": false}, "axis": {"orient": "right", "offset": -856, "labels": false, "ticks": false, "domainColor": "#a6a6a6", "title": null}},
            "text": {"field": "label"}}}
      ]
    },
    {
      "data": {"name": "C"},
      "resolve": {"axis": {"x": "independent", "y": "independent"}},
      "encoding": {
        "x": {"field": "t", "type": "quantitative", "scale": {"domain": [0, 30], "range": [195.3, 415.3], "nice": false, "zero": false}, "axis": null},
        "y": {"field": "eff", "type": "quantitative", "scale": {"domain": [0, 100], "range": [823, 761.3], "nice": false, "zero": false}, "axis": null}
      },
      "layer": [
        {"mark": {"type": "point", "shape": "M-1,0L0,-0.68L1,0L0,0.68Z", "filled": true, "size": 144, "color": "#8062a8", "opacity": 1},
          "encoding": {
            "x": {"field": "t", "type": "quantitative", "scale": {"domain": [0, 30], "range": [195.3, 415.3], "nice": false, "zero": false},
              "axis": {"orient": "bottom", "offset": -246, "values": [0,10,20,30], "format": "d", "ticks": false, "domainColor": "#a6a6a6", "labelPadding": 8, "labelFont": "DejaVu Serif", "labelFontSize": 14, "labelColor": "#404040", "labelFlush": false, "labelOverlap": false,
                "title": "t (min)", "titleX": 304, "titleY": 35, "titleBaseline": "middle", "titleAlign": "center", "titleFont": "DejaVu Serif", "titleFontSize": 13.5, "titleFontWeight": "bold", "titleColor": "#1a1a1a"}},
            "y": {"field": "eff", "type": "quantitative", "scale": {"domain": [0, 100], "range": [823, 761.3], "nice": false, "zero": false},
              "axis": {"orient": "left", "offset": -195.3, "values": [0,50,100], "format": "d", "ticks": false, "domainColor": "#a6a6a6", "labelPadding": 7, "labelFont": "DejaVu Serif", "labelFontSize": 14, "labelColor": "#404040", "labelFlush": false, "labelOverlap": false,
                "title": ["Arsenic removal", "efficiency (%)"], "titleX": -74, "titleY": 800, "titleAngle": 270, "titleBaseline": "middle", "titleAlign": "center", "titleFont": "Liberation Serif", "titleFontSize": 10.5, "titleFontWeight": "bold", "titleColor": "#1a1a1a", "titleLineHeight": 16}}
          }},
        {"data": {"values": [{"t": 26.7, "eff": 73, "label": "C2"}]}, "mark": {"type": "text", "font": "DejaVu Sans", "fontWeight": "bold", "fontSize": 23, "color": "#000000", "align": "center", "baseline": "middle"},
          "encoding": {
            "x": {"field": "t", "type": "quantitative", "scale": {"domain": [0, 30], "range": [195.3, 415.3], "nice": false, "zero": false}, "axis": {"orient": "top", "offset": -761.3, "labels": false, "ticks": false, "domainColor": "#a6a6a6", "title": null}},
            "y": {"field": "eff", "type": "quantitative", "scale": {"domain": [0, 100], "range": [823, 761.3], "nice": false, "zero": false}, "axis": {"orient": "right", "offset": -855.7, "labels": false, "ticks": false, "domainColor": "#a6a6a6", "title": null}},
            "text": {"field": "label"}}}
      ]
    }
  ]
}
